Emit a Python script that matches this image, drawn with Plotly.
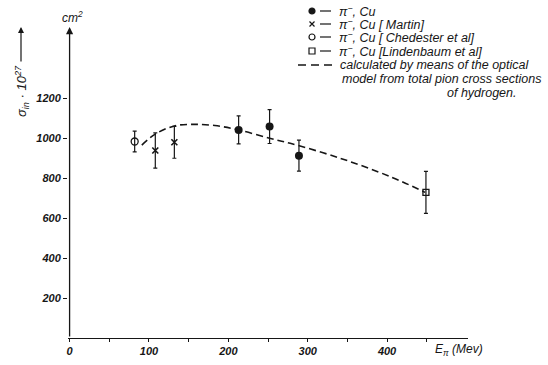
import plotly.graph_objects as go

# Inelastic pi- Cu cross section (sigma_in * 10^27, cm^2) vs pion kinetic energy (MeV)
this_work_e = [213, 252, 289]
this_work_s = [1043, 1060, 914]
this_work_err = [70, 85, 78]

martin_e = [108, 132]
martin_s = [940, 981]
martin_err = [88, 80]

chedester_e = [82]
chedester_s = [985]
chedester_err = [52]

lindenbaum_e = [449]
lindenbaum_s = [730]
lindenbaum_err = [105]

# optical-model curve
model_e = [91, 108, 132, 156, 183, 213, 252, 278, 341, 404, 448]
model_s = [967, 1022, 1063, 1071, 1065, 1043, 1001, 976, 901, 809, 730]

x_ticks = [0, 100, 200, 300, 400]
x_minor = [50, 150, 250, 350, 450]
y_ticks = [200, 400, 600, 800, 1000, 1200]
y_axis_top = 1559

W, H = 548, 365
ML, MR, MT, MB = 68, 80, 4, 27
PW, PH = W - ML - MR, H - MT - MB

INK = "#161616"
FONT = "Liberation Sans, DejaVu Sans, sans-serif"


def px(x):
    return (x - ML) / PW


def py(y):
    return (H - MB - y) / PH


fig = go.Figure()

fig.add_trace(go.Scatter(
    x=model_e, y=model_s, mode="lines", line_shape="spline",
    line=dict(color=INK, width=1.6, dash="7px,4px"), hoverinfo="skip"))


def err(vals):
    return dict(type="data", array=vals, visible=True, color=INK,
                thickness=1.2, width=2)


fig.add_trace(go.Scatter(
    x=chedester_e, y=chedester_s, mode="markers", error_y=err(chedester_err),
    marker=dict(symbol="circle-open", size=7, color=INK, line=dict(width=1.3))))
fig.add_trace(go.Scatter(
    x=martin_e, y=martin_s, mode="markers", error_y=err(martin_err),
    marker=dict(symbol="x-thin-open", size=6, color=INK, line=dict(width=1.6))))
fig.add_trace(go.Scatter(
    x=this_work_e, y=this_work_s, mode="markers", error_y=err(this_work_err),
    marker=dict(symbol="circle", size=8, color=INK)))
fig.add_trace(go.Scatter(
    x=lindenbaum_e, y=lindenbaum_s, mode="markers", error_y=err(lindenbaum_err),
    marker=dict(symbol="square-open", size=6, color=INK, line=dict(width=1.3))))

# key symbols, placed on an overlay axis measured in page pixels
key_y = [11, 24, 37, 51]
key_sym = ["circle", "x-thin-open", "circle-open", "square-open"]
key_size = [6, 5, 6, 6]
for yk, sym, sz in zip(key_y, key_sym, key_size):
    fig.add_trace(go.Scatter(
        x=[312], y=[yk], xaxis="x2", yaxis="y2", mode="markers", cliponaxis=False,
        marker=dict(symbol=sym, size=sz, color=INK, line=dict(width=1.2, color=INK)),
        hoverinfo="skip"))
    fig.add_trace(go.Scatter(
        x=[320, 331], y=[yk, yk], xaxis="x2", yaxis="y2", mode="lines",
        cliponaxis=False, line=dict(color=INK, width=1.2), hoverinfo="skip"))
fig.add_trace(go.Scatter(
    x=[298, 334], y=[65, 65], xaxis="x2", yaxis="y2", mode="lines", cliponaxis=False,
    line=dict(color=INK, width=1.4, dash="8px,5px"), hoverinfo="skip"))

key_text = [
    (337, 11, "π<sup>−</sup>, Cu"),
    (337, 24, "π<sup>−</sup>, Cu [ Martin]"),
    (337, 37, "π<sup>−</sup>, Cu [ Chedester et al]"),
    (337, 51, "π<sup>−</sup>, Cu [Lindenbaum et al]"),
    (338, 65, "calculated by means of the optical"),
    (340, 79, "model from total pion cross sections"),
    (445, 93, "of hydrogen."),
]
annotations = []
for xk, yk, t in key_text:
    annotations.append(dict(
        x=px(xk), y=py(yk), xref="paper", yref="paper", text="<i>" + t + "</i>",
        showarrow=False, xanchor="left", yanchor="middle",
        font=dict(family=FONT, size=12.5, color=INK)))

# vertical axis drawn as an arrow
annotations.append(dict(
    x=0, y=y_axis_top, ax=0, ay=0, xref="x", yref="y", axref="x", ayref="y",
    text="", showarrow=True, arrowhead=2, arrowsize=1.1, arrowwidth=1.3,
    arrowcolor=INK))
annotations.append(dict(
    x=px(72), y=py(17), xref="paper", yref="paper", text="<i>cm<sup>2</sup></i>",
    showarrow=False, xanchor="center", yanchor="middle",
    font=dict(family=FONT, size=12, color=INK)))
annotations.append(dict(
    x=px(22), y=py(91), xref="paper", yref="paper",
    text="<i>σ<sub>in</sub> · 10<sup>27</sup></i>", textangle=-90,
    showarrow=False, xanchor="center", yanchor="middle",
    font=dict(family=FONT, size=13, color=INK)))
annotations.append(dict(
    x=px(21), y=py(27), xref="paper", yref="paper", ax=0, ay=36,
    text="", showarrow=True, arrowhead=2, arrowsize=1.0, arrowwidth=1.2,
    arrowcolor=INK))
annotations.append(dict(
    x=px(433), y=py(350), xref="paper", yref="paper",
    text="<i>E<sub>π</sub> (Mev)</i>",
    showarrow=False, xanchor="left", yanchor="middle",
    font=dict(family=FONT, size=12, color=INK)))

tickfont = dict(family=FONT, size=11, color=INK, style="italic", weight="bold")

fig.update_layout(
    width=W, height=H,
    margin=dict(l=ML, r=MR, t=MT, b=MB),
    paper_bgcolor="white", plot_bgcolor="white",
    showlegend=False,
    annotations=annotations,
    xaxis=dict(
        range=[-2, 502], showgrid=False, zeroline=False,
        showline=True, linecolor=INK, linewidth=1.3,
        tickmode="array", tickvals=x_ticks, ticktext=[str(v) for v in x_ticks],
        ticks="outside", ticklen=3, tickcolor=INK, tickwidth=1.2,
        tickfont=tickfont,
        minor=dict(tickmode="array", tickvals=x_minor, ticks="outside",
                   ticklen=3, tickcolor=INK, tickwidth=1.2),
    ),
    yaxis=dict(
        range=[0, (H - MB - MT) / 0.1995], showgrid=False, zeroline=False,
        showline=False,
        tickmode="array", tickvals=y_ticks, ticktext=[str(v) for v in y_ticks],
        ticks="outside", ticklen=4, tickcolor=INK, tickwidth=1.2,
        tickfont=tickfont,
    ),
    xaxis2=dict(overlaying="x", range=[ML, ML + PW], visible=False),
    yaxis2=dict(overlaying="y", range=[H - MB, MT], visible=False),
)

fig.write_html("out.html")
